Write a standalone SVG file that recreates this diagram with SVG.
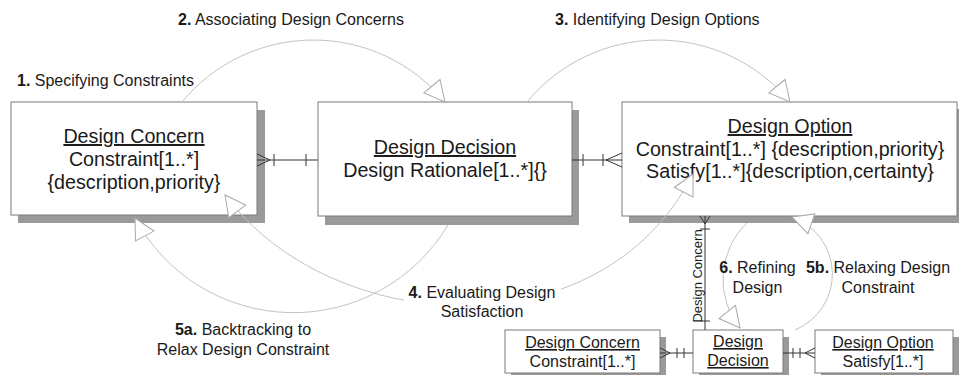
<svg xmlns="http://www.w3.org/2000/svg" width="959" height="375" viewBox="0 0 959 375">
  <defs>
    <style>
      .shadow { fill: #9a9a9a; }
      .box { fill: #ffffff; stroke: #7a7a7a; stroke-width: 1; }
      .t { font-family: "Liberation Sans", Arial, sans-serif; fill: #1a1a1a; }
      .big { font-size: 19.7px; text-anchor: middle; }
      .sm { font-size: 16px; text-anchor: middle; }
      .u { text-decoration: underline; }
      .lbl { font-size: 16px; }
      .mid { text-anchor: middle; }
      .b { font-weight: bold; }
      .arc { fill: none; stroke: #c2c2c2; stroke-width: 1; }
      .er { fill: none; stroke: #333333; stroke-width: 1; }
    </style>
    <marker id="open" markerUnits="userSpaceOnUse" markerWidth="24" markerHeight="24" viewBox="0 0 24 24" refX="22" refY="12" orient="auto-start-reverse">
      <path d="M1.5,1.5 L22,12 L1.5,22.5 Z" fill="#ffffff" stroke="#a8a8a8" stroke-width="1"/>
    </marker>
  </defs>

  <rect width="959" height="375" fill="#ffffff"/>

  <!-- main entities -->
  <g id="design-concern">
    <rect class="shadow" x="18" y="110" width="247" height="113"/>
    <rect class="box" x="11" y="102" width="246" height="113"/>
    <text class="t big u" x="134" y="143">Design Concern</text>
    <text class="t big" x="134" y="166">Constraint[1..*]</text>
    <text class="t big" x="134" y="189">{description,priority}</text>
  </g>

  <g id="design-decision">
    <rect class="shadow" x="325" y="110" width="254" height="115"/>
    <rect class="box" x="318" y="102" width="254" height="114"/>
    <text class="t big u" x="445" y="154">Design Decision</text>
    <text class="t big" x="445" y="177">Design Rationale[1..*]{}</text>
  </g>

  <g id="design-option">
    <rect class="shadow" x="629" y="109" width="335" height="114"/>
    <rect class="box" x="622" y="102" width="335" height="114"/>
    <text class="t big u" x="790" y="133">Design Option</text>
    <text class="t big" x="790" y="155.5">Constraint[1..*] {description,priority}</text>
    <text class="t big" x="790" y="178">Satisfy[1..*]{description,certainty}</text>
  </g>

  <!-- small entities -->
  <g id="design-concern-small">
    <rect class="shadow" x="511" y="337" width="155" height="43"/>
    <rect class="box" x="505" y="330" width="155" height="43"/>
    <text class="t sm u" x="582.5" y="348">Design Concern</text>
    <text class="t sm" x="582.5" y="367">Constraint[1..*]</text>
  </g>

  <g id="design-decision-small">
    <rect class="shadow" x="699" y="337" width="90" height="43"/>
    <rect class="box" x="693" y="330" width="90" height="43"/>
    <text class="t sm u" x="738" y="347">Design</text>
    <text class="t sm u" x="738" y="366">Decision</text>
  </g>

  <g id="design-option-small">
    <rect class="shadow" x="821" y="337" width="138" height="43"/>
    <rect class="box" x="815" y="330" width="138" height="43"/>
    <text class="t sm u" x="883" y="348">Design Option</text>
    <text class="t sm" x="883" y="367">Satisfy[1..*]</text>
  </g>

  <!-- connectors -->
  <g id="connectors">
    <!-- process arcs -->
    <path class="arc" d="M182,102 A170.5,170.5 0 0 1 445,102" marker-end="url(#open)"/>
    <path class="arc" d="M527,102 A170.5,170.5 0 0 1 790,102" marker-end="url(#open)"/>
    <path class="arc" d="M225,195 C330,336 600,356 693,174" marker-start="url(#open)" marker-end="url(#open)"/>
    <path class="arc" d="M448,225 A180,180 0 0 1 135,218" marker-end="url(#open)"/>
    <path class="arc" d="M747,223 A78,78 0 0 0 740,328" marker-end="url(#open)"/>
    <path class="arc" d="M795,330 A60.5,60.5 0 0 0 792,217" marker-end="url(#open)"/>

    <!-- relationship lines -->
    <path class="er" d="M257,160 H318 M257,154 L270,160 L257,166 M274,154 V166 M306,154 V166"/>
    <path class="er" d="M572,160 H622 M583,154 V166 M603,154 V166 M622,153 L606,160 L622,167"/>
    <path class="er" d="M705,216 V330 M700,216 L705,224 L710,216 M700,229 H710 M701,321 H710"/>
    <text class="t" font-size="13" text-anchor="middle" transform="translate(702,276) rotate(-90)">Design Concern</text>
    <path class="er" d="M660,353 H693 M660,348 L670,353 L660,358 M677,348 V358 M684,348 V358"/>
    <path class="er" d="M783,353 H815 M793,348 V358 M800,348 V358 M815,348 L805,353 L815,358"/>

    <!-- step labels -->
    <text class="t lbl" x="17" y="86"><tspan class="b">1.</tspan> Specifying Constraints</text>
    <text class="t lbl" x="178" y="25"><tspan class="b">2.</tspan> Associating Design Concerns</text>
    <text class="t lbl" x="555" y="25"><tspan class="b">3.</tspan> Identifying Design Options</text>
    <rect x="404" y="283" width="157" height="39" fill="#ffffff"/>
    <text class="t lbl mid" x="482" y="298"><tspan class="b">4.</tspan> Evaluating Design</text>
    <text class="t lbl mid" x="482" y="317">Satisfaction</text>
    <text class="t lbl mid" x="243" y="335"><tspan class="b">5a.</tspan> Backtracking to</text>
    <text class="t lbl mid" x="243" y="355">Relax Design Constraint</text>
    <text class="t lbl mid" x="757.5" y="273"><tspan class="b">6.</tspan> Refining</text>
    <text class="t lbl mid" x="757.5" y="293">Design</text>
    <text class="t lbl mid" x="878" y="273"><tspan class="b">5b.</tspan> Relaxing Design</text>
    <text class="t lbl mid" x="878" y="293">Constraint</text>
  </g>
</svg>
